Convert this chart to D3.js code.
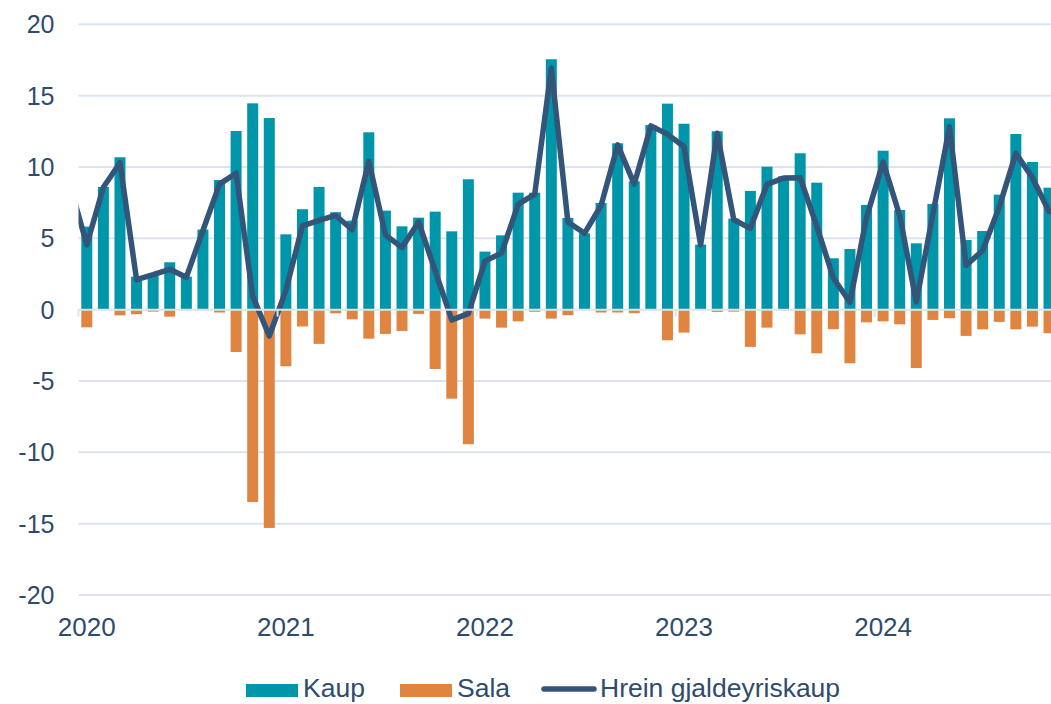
<!DOCTYPE html>
<html>
<head>
<meta charset="utf-8">
<script src="https://cdn.jsdelivr.net/npm/d3@7"></script>
<style>
  html, body { margin: 0; padding: 0; background: #fff; }
  svg { display: block; font-family: "Liberation Sans", Arial, sans-serif; }
</style>
</head>
<body>
<svg id="chart" width="1051" height="704"></svg>
<script>
// Months: Dec 2019 (only the net line is connected from it) through Nov 2024
const months = [
  "2019-12",
  "2020-01","2020-02","2020-03","2020-04","2020-05","2020-06","2020-07","2020-08","2020-09","2020-10","2020-11","2020-12",
  "2021-01","2021-02","2021-03","2021-04","2021-05","2021-06","2021-07","2021-08","2021-09","2021-10","2021-11","2021-12",
  "2022-01","2022-02","2022-03","2022-04","2022-05","2022-06","2022-07","2022-08","2022-09","2022-10","2022-11","2022-12",
  "2023-01","2023-02","2023-03","2023-04","2023-05","2023-06","2023-07","2023-08","2023-09","2023-10","2023-11","2023-12",
  "2024-01","2024-02","2024-03","2024-04","2024-05","2024-06","2024-07","2024-08","2024-09","2024-10","2024-11"
];
// Kaup (purchases)
const kaup = [
  null,
  5.82, 8.6, 10.68, 2.31, 2.55, 3.32, 2.31, 5.61, 9.09, 12.52, 14.46, 13.43,
  5.28, 7.04, 8.6, 6.83, 6.24, 12.43, 6.94, 5.84, 6.45, 6.87, 5.49, 9.14,
  4.07, 5.21, 8.2, 8.2, 17.55, 6.43, 5.35, 7.48, 11.66, 9.0, 12.94, 14.44,
  13.03, 4.56, 12.5, 6.38, 8.32, 10.02, 9.35, 10.96, 8.9, 3.6, 4.25, 7.34,
  11.14, 6.99, 4.65, 7.41, 13.41, 4.88, 5.51, 8.06, 12.31, 10.35, 8.55
];
// Sala (sales)
const sala = [
  null,
  -1.24, 0, -0.4, -0.32, -0.14, -0.49, -0.05, -0.05, -0.2, -2.97, -13.48, -15.3,
  -3.97, -1.18, -2.4, -0.26, -0.68, -2.03, -1.7, -1.49, -0.3, -4.16, -6.24, -9.43,
  -0.63, -1.26, -0.82, -0.15, -0.63, -0.39, -0.03, -0.2, -0.2, -0.25, -0.05, -2.15,
  -1.61, 0, -0.16, -0.14, -2.61, -1.26, -0.05, -1.73, -3.06, -1.37, -3.76, -0.89,
  -0.82, -1.03, -4.09, -0.72, -0.6, -1.84, -1.38, -0.86, -1.38, -1.19, -1.65
];
// Hrein gjaldeyriskaup (net purchases)
const net = [
  8.7,
  4.55, 8.58, 10.3, 2.1, 2.45, 2.83, 2.27, 5.55, 8.8, 9.56, 0.95, -1.85,
  1.35, 5.88, 6.25, 6.6, 5.6, 10.4, 5.24, 4.35, 6.15, 2.72, -0.72, -0.28,
  3.4, 3.97, 7.38, 8.1, 16.92, 6.15, 5.35, 7.3, 11.55, 8.8, 12.88, 12.3,
  11.42, 4.55, 12.36, 6.3, 5.7, 8.78, 9.22, 9.25, 5.86, 2.22, 0.52, 6.47,
  10.34, 6.6, 0.53, 6.69, 12.81, 3.1, 4.15, 7.2, 10.95, 9.25, 6.88
];
const yTicks = [-20, -15, -10, -5, 0, 5, 10, 15, 20];
const yearLabels = ["2020", "2021", "2022", "2023", "2024"];
const seriesNames = ["Kaup", "Sala", "Hrein gjaldeyriskaup"];

const colKaup = "#0096a9";
const colSala = "#e08442";
const colNet = "#33557a";
const colText = "#2f4b6c";
const colGrid = "#dbe4ee";

const svg = d3.select("#chart");
const plotLeft = 78.5, plotRight = 1051;
const step = 16.59;

const x = d3.scaleBand()
  .domain(months)
  .range([plotLeft - step, plotLeft - step + step * months.length])
  .paddingInner(0.337)
  .paddingOuter(0.1685);

const y = d3.scaleLinear().domain([-20, 20]).range([595, 24.3]);

svg.append("defs").append("clipPath").attr("id", "plotclip")
  .append("rect").attr("x", plotLeft).attr("y", 0).attr("width", plotRight - plotLeft).attr("height", 704);

// gridlines
svg.append("g").selectAll("line").data(yTicks.filter(d => d !== 0)).join("line")
  .attr("x1", plotLeft).attr("x2", plotRight)
  .attr("y1", d => y(d)).attr("y2", d => y(d))
  .attr("stroke", colGrid).attr("stroke-width", 2);

// y labels
svg.append("g").selectAll("text").data(yTicks).join("text")
  .attr("x", 54.5).attr("y", d => y(d) + 9)
  .attr("text-anchor", "end")
  .attr("font-size", 25).attr("fill", colText)
  .text(d => d);

const idx = months.map((m, i) => i);
const plot = svg.append("g").attr("clip-path", "url(#plotclip)");

// bars
plot.append("g").selectAll("rect").data(idx.filter(i => kaup[i] != null)).join("rect")
  .attr("x", i => x(months[i])).attr("width", x.bandwidth())
  .attr("y", i => y(kaup[i])).attr("height", i => y(0) - y(kaup[i]))
  .attr("fill", colKaup);
plot.append("g").selectAll("rect").data(idx.filter(i => sala[i] != null && sala[i] < 0)).join("rect")
  .attr("x", i => x(months[i])).attr("width", x.bandwidth())
  .attr("y", y(0)).attr("height", i => y(sala[i]) - y(0))
  .attr("fill", colSala);

// zero axis line
svg.append("line")
  .attr("x1", plotLeft).attr("x2", plotRight)
  .attr("y1", y(0)).attr("y2", y(0))
  .attr("stroke", colGrid).attr("stroke-width", 2);

// year ticks at boundaries (before each January)
const janMonths = months.filter(m => m.endsWith("-01"));
const gap = (x.step() - x.bandwidth()) / 2;
svg.append("g").selectAll("line").data(janMonths).join("line")
  .attr("x1", m => x(m) - gap).attr("x2", m => x(m) - gap)
  .attr("y1", y(0)).attr("y2", y(0) + 7)
  .attr("stroke", colGrid).attr("stroke-width", 2);

// year labels
svg.append("g").selectAll("text").data(janMonths).join("text")
  .attr("x", m => x(m) + x.bandwidth() / 2).attr("y", 636)
  .attr("text-anchor", "middle")
  .attr("font-size", 26).attr("fill", colText)
  .text((m, i) => yearLabels[i]);

// net line
const line = d3.line()
  .x(i => x(months[i]) + x.bandwidth() / 2)
  .y(i => y(net[i]));
plot.append("path").datum(idx)
  .attr("d", line)
  .attr("fill", "none").attr("stroke", colNet)
  .attr("stroke-width", 5.5).attr("stroke-linejoin", "round").attr("stroke-linecap", "round");

// legend
const lg = svg.append("g").attr("font-size", 26.5).attr("fill", colText);
lg.append("rect").attr("x", 246).attr("y", 684).attr("width", 52).attr("height", 13).attr("fill", colKaup);
lg.append("text").attr("x", 303).attr("y", 697).text(seriesNames[0]);
lg.append("rect").attr("x", 400).attr("y", 684).attr("width", 52).attr("height", 13).attr("fill", colSala);
lg.append("text").attr("x", 457).attr("y", 697).text(seriesNames[1]);
lg.append("line").attr("x1", 544).attr("x2", 594).attr("y1", 689).attr("y2", 689)
  .attr("stroke", colNet).attr("stroke-width", 5.5).attr("stroke-linecap", "round");
lg.append("text").attr("x", 600).attr("y", 697).text(seriesNames[2]);
</script>
</body>
</html>
